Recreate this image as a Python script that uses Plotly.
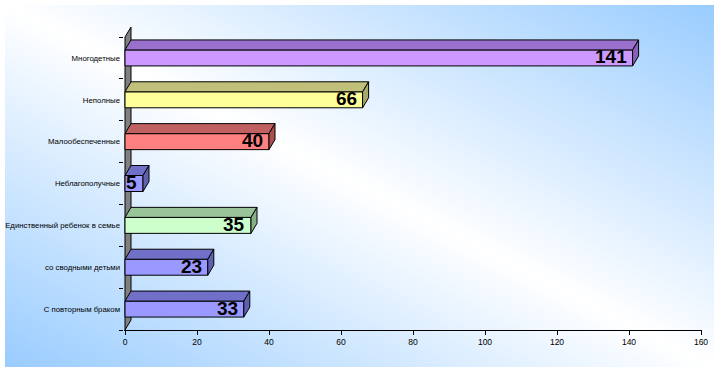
import base64
import plotly.graph_objects as go

# ---- data ----
categories = ["Многодетные", "Неполные", "Малообеспеченные", "Неблагополучные",
              "Единственный ребенок в семье", "со сводными детьми", "С повторным браком"]
values = [141, 66, 40, 5, 35, 23, 33]
front_colors = ["#CC99FF", "#FFFF99", "#FF8080", "#9999FF", "#CCFFCC", "#9999FF", "#9999FF"]
top_colors = ["#9970CC", "#C0C07A", "#C06060", "#7070C8", "#99C499", "#7070C8", "#7070C8"]
side_colors = ["#8860B8", "#A8A868", "#A85050", "#6060B0", "#88B088", "#6060B0", "#6060B0"]
x_ticks = [0, 20, 40, 60, 80, 100, 120, 140, 160]

W, H = 722, 374
# pixel geometry of the plot area
x0_px, x1_px = 124, 702
px_per_unit = 3.6
y_top_px, y_bot_px = 20, 330
cat_px = (330 - 37) / len(categories)

x_range = [(x0_px - 125) / px_per_unit, (x1_px - 125) / px_per_unit]
y_range = [len(categories) - 0.5, (y_top_px - 37) / cat_px - 0.5]

dx = 6 / px_per_unit      # depth offset in x units
dy = 10 / cat_px          # depth offset in category units
half = 8 / cat_px         # half-height of bar front face

idx = list(range(len(categories)))

fig = go.Figure()
fig.add_trace(go.Bar(
    x=values, y=idx, orientation="h", width=2 * half,
    marker=dict(color=front_colors, line=dict(color="black", width=1)),
    hoverinfo="skip", showlegend=False,
))

shapes = []
n = len(categories)
shapes.append(dict(
    type="path", xref="x", yref="y", layer="below",
    path=f"M 0 {n-0.5} L 0 {-0.5} L {dx} {-0.5-dy} L {dx} {n-0.5-dy} Z",
    fillcolor="#808080", line=dict(color="black", width=1),
))
for k, v in enumerate(values):
    t = k - half
    b = k + half
    shapes.append(dict(
        type="path", xref="x", yref="y",
        path=f"M 0 {t} L {v} {t} L {v+dx} {t-dy} L {dx} {t-dy} Z",
        fillcolor=top_colors[k], line=dict(color="black", width=1),
    ))
    shapes.append(dict(
        type="path", xref="x", yref="y",
        path=f"M {v} {t} L {v+dx} {t-dy} L {v+dx} {b-dy} L {v} {b} Z",
        fillcolor=side_colors[k], line=dict(color="black", width=1),
    ))

annotations = []
for k, v in enumerate(values):
    annotations.append(dict(
        x=v, y=k, xref="x", yref="y", text=f"<b>{v}</b>", showarrow=False,
        xanchor="right", yanchor="middle", xshift=-4, yshift=1,
        font=dict(family="Arial, Liberation Sans", size=19, color="black"),
    ))

# background gradient panel
pw, ph = 709, 362
svg = (f'<svg xmlns="http://www.w3.org/2000/svg" width="{pw}" height="{ph}">'
       '<defs><linearGradient id="g" x1="0" y1="1" x2="1" y2="0">'
       '<stop offset="0" stop-color="#99CCFF"/>'
       '<stop offset="0.5" stop-color="#FFFFFF"/>'
       '<stop offset="1" stop-color="#99CCFF"/>'
       '</linearGradient></defs>'
       f'<rect width="{pw}" height="{ph}" fill="url(#g)"/></svg>')
src = "data:image/svg+xml;base64," + base64.b64encode(svg.encode()).decode()

fig.update_layout(
    width=W, height=H, autosize=False,
    margin=dict(l=0, r=0, t=0, b=0, pad=0),
    paper_bgcolor="white", plot_bgcolor="rgba(0,0,0,0)",
    images=[dict(source=src, xref="paper", yref="paper", x=5 / W, y=1 - 5 / H,
                 sizex=pw / W, sizey=ph / H, sizing="stretch", layer="below",
                 xanchor="left", yanchor="top")],
    shapes=shapes, annotations=annotations, showlegend=False,
    xaxis=dict(domain=[x0_px / W, x1_px / W], range=x_range,
               tickvals=x_ticks, ticktext=[str(t) for t in x_ticks],
               ticks="outside", ticklen=4, tickcolor="black",
               showline=True, linecolor="black", linewidth=1,
               showgrid=False, zeroline=False, automargin=False,
               tickfont=dict(family="Arial, Liberation Sans", size=8.5, color="black")),
    yaxis=dict(domain=[1 - y_bot_px / H, 1 - y_top_px / H], range=y_range,
               tickvals=idx, ticktext=categories, ticks="", ticklen=0,
               ticklabelstandoff=3,
               minor=dict(tickvals=[k - 0.5 for k in range(n + 1)], ticks="outside",
                          ticklen=4, tickcolor="black", showgrid=False),
               showline=False, showgrid=False, zeroline=False, automargin=False,
               tickfont=dict(family="Arial, Liberation Sans", size=7.8, color="black")),
)

fig.write_html("out.html", config={"displayModeBar": False},
               post_script="document.body.style.margin='0';document.body.style.padding='0';")
